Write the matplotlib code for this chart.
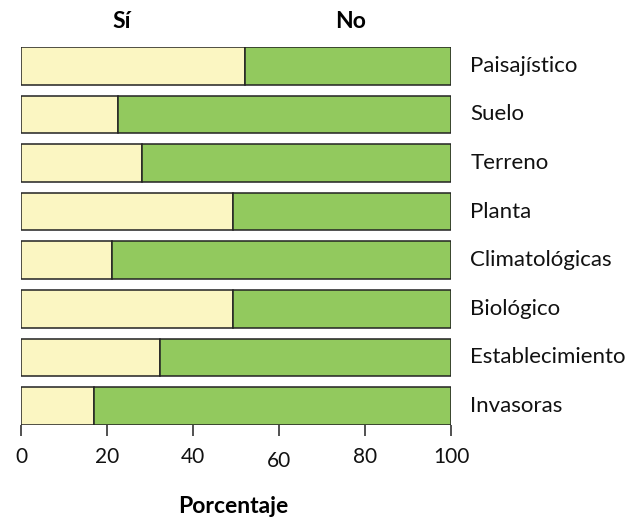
import matplotlib
matplotlib.use("Agg")
import matplotlib.pyplot as plt
import matplotlib.transforms as mtransforms

plt.rcParams['font.family'] = ['Lato', 'DejaVu Sans']

categories = ["Paisajístico", "Suelo", "Terreno", "Planta",
              "Climatológicas", "Biológico", "Establecimiento", "Invasoras"]
si_values = [52.1, 22.5, 28.1, 49.2, 21.1, 49.2, 32.3, 16.9]
no_values = [100 - v for v in si_values]
xticks = [0, 20, 40, 60, 80, 100]

color_si = "#FBF6C2"
color_no = "#92C95E"
edge = "#222222"

W, H = 643, 519
fig = plt.figure(figsize=(W / 100, H / 100), dpi=100)
ax = fig.add_axes([21 / W, (H - 424.7) / H, 430 / W, (424.7 - 47) / H])

bar_h = 0.774
ypos = list(range(len(categories)))
ax.barh(ypos, si_values, height=bar_h, color=color_si, edgecolor=edge, linewidth=1.1)
ax.barh(ypos, no_values, left=si_values, height=bar_h, color=color_no,
        edgecolor=edge, linewidth=1.1)

ax.set_xlim(0, 100)
ax.set_ylim(len(categories) - 1 + bar_h / 2, -bar_h / 2)

for s in ["top", "right", "left", "bottom"]:
    ax.spines[s].set_visible(False)
ax.set_yticks([])
ax.set_xticks(xticks)
ax.set_xticklabels([str(t) for t in xticks])
ax.tick_params(axis="x", length=8, width=1.1, color=edge, labelsize=15, pad=8,
               labelcolor="#111111")

# the "60" label sits slightly lower
for lbl in ax.get_xticklabels():
    if lbl.get_text() == "60":
        lbl.set_transform(lbl.get_transform() +
                          mtransforms.ScaledTranslation(0, -4 / 100, fig.dpi_scale_trans))

# category names to the right of the bars
for y, name in zip(ypos, categories):
    ax.text(104.5, y, name, ha="left", va="center", fontsize=16, color="#111111")

# column headers
ax.text(23.3, -0.777, "Sí", ha="center", va="baseline", fontsize=16.5, fontweight="bold")
ax.text(76.7, -0.777, "No", ha="center", va="baseline", fontsize=16.5, fontweight="bold")

fig.text(233.5 / W, (H - 513) / H, "Porcentaje", ha="center", va="baseline",
         fontsize=16.5, fontweight="bold")

fig.savefig("out.png", dpi=100)
